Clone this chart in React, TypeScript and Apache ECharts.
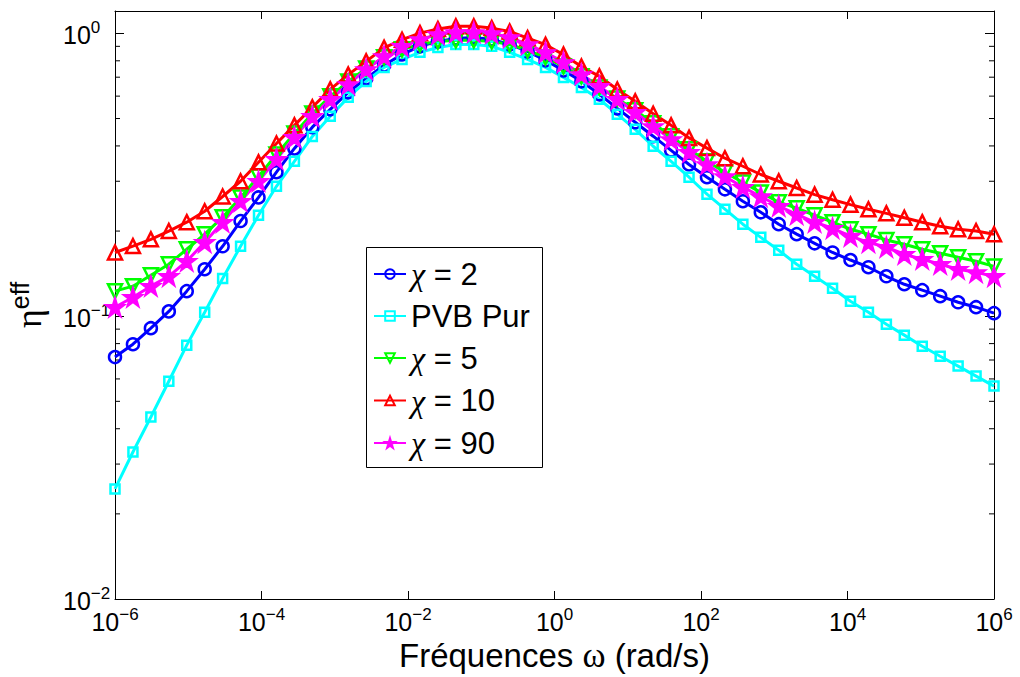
import React, { useEffect, useRef } from "react";
import * as echarts from "echarts";

// x grid: logspace(-6, 6, 50) -> exponents of omega
const omegaExponents: number[] = Array.from({ length: 50 }, (_, k) => -6 + (12 * k) / 49);

const seriesNames = ["χ = 2", "PVB Pur", "χ = 5", "χ = 10", "χ = 90"];

const chi2 = [
  0.0717, 0.0796, 0.0907, 0.104, 0.1226, 0.1466, 0.1767, 0.217, 0.263, 0.323,
  0.392, 0.466, 0.539, 0.619, 0.693, 0.771, 0.843, 0.9, 0.937, 0.96,
  0.968, 0.952, 0.914, 0.864, 0.803, 0.74, 0.677, 0.609, 0.543, 0.485,
  0.433, 0.386, 0.344, 0.31, 0.281, 0.255, 0.233, 0.2115, 0.195, 0.181,
  0.168, 0.158, 0.149, 0.1384, 0.1297, 0.1236, 0.1177, 0.112, 0.1076, 0.1025,
];
const pvbPur = [
  0.0245, 0.0331, 0.044, 0.0589, 0.079, 0.1033, 0.136, 0.1767, 0.2275, 0.288,
  0.353, 0.432, 0.509, 0.594, 0.676, 0.758, 0.809, 0.857, 0.892, 0.914,
  0.914, 0.9, 0.857, 0.809, 0.758, 0.699, 0.644, 0.585, 0.518, 0.458,
  0.399, 0.353, 0.31, 0.27, 0.239, 0.2115, 0.19, 0.171, 0.1527, 0.1384,
  0.1256, 0.113, 0.1033, 0.0937, 0.0857, 0.0783, 0.0722, 0.0666, 0.0614, 0.0566,
];
const chi5 = [
  0.1226, 0.1277, 0.1396, 0.1527, 0.1725, 0.195, 0.224, 0.263, 0.312, 0.373,
  0.443, 0.521, 0.599, 0.676, 0.752, 0.823, 0.878, 0.914, 0.937, 0.945,
  0.945, 0.937, 0.914, 0.871, 0.823, 0.764, 0.705, 0.644, 0.589, 0.535,
  0.481, 0.433, 0.389, 0.353, 0.323, 0.297, 0.274, 0.253, 0.241, 0.2275,
  0.215, 0.203, 0.195, 0.186, 0.1796, 0.1725, 0.167, 0.1616, 0.1565, 0.15,
];
const chi10 = [
  0.168, 0.177, 0.187, 0.2, 0.215, 0.235, 0.265, 0.3, 0.35, 0.408,
  0.473, 0.548, 0.634, 0.715, 0.796, 0.889, 0.95, 1.002, 1.036, 1.059,
  1.059, 1.044, 1.016, 0.962, 0.912, 0.841, 0.764, 0.705, 0.633, 0.575,
  0.52, 0.473, 0.427, 0.393, 0.362, 0.339, 0.317, 0.3, 0.284, 0.269,
  0.258, 0.248, 0.239, 0.231, 0.223, 0.215, 0.208, 0.203, 0.2, 0.195,
];
const chi90 = [
  0.1076, 0.1167, 0.1277, 0.1384, 0.1565, 0.1825, 0.215, 0.255, 0.3, 0.359,
  0.429, 0.509, 0.585, 0.66, 0.746, 0.829, 0.9, 0.952, 0.992, 1.008,
  1.008, 1.0, 0.968, 0.914, 0.857, 0.79, 0.716, 0.65, 0.585, 0.526,
  0.469, 0.422, 0.38, 0.344, 0.312, 0.286, 0.265, 0.245, 0.229, 0.215,
  0.2046, 0.192, 0.1825, 0.1753, 0.1656, 0.159, 0.1527, 0.1466, 0.1429, 0.1384,
];

const xTickExponents = [-6, -4, -2, 0, 2, 4, 6];
const yMinorTicks = [0.02, 0.03, 0.04, 0.05, 0.06, 0.07, 0.08, 0.09, 0.2, 0.3, 0.4, 0.5, 0.6, 0.7, 0.8, 0.9];

const SANS = "'Liberation Sans', Arial, Helvetica, sans-serif";
const SERIF = "'Liberation Serif', 'Times New Roman', serif";
const STAR = "path://M50,0 L61,35 L98,35 L68,57 L79,91 L50,70 L21,91 L32,57 L2,35 L39,35 Z";

const supLabel = (e: number) => `{b|10}{s|${e < 0 ? "−" + -e : e}}`;

export default function App() {
  const ref = useRef<HTMLDivElement>(null);
  useEffect(() => {
    if (!ref.current) return;
    const chart = echarts.init(ref.current, undefined, { renderer: "svg" });
    const mk = (
      name: string,
      vals: number[],
      color: string,
      symbol: string,
      size: number,
      rotate: number,
      fill: string
    ) => ({
      name,
      type: "line",
      data: vals.map((v, i) => [omegaExponents[i], v]),
      symbol,
      symbolSize: size,
      symbolRotate: rotate,
      showSymbol: true,
      lineStyle: { color, width: 3 },
      itemStyle: { color: fill, borderColor: color, borderWidth: 2.5 },
      emphasis: { disabled: true },
      z: 3,
    });
    const labelRich = {
      b: { fontSize: 25, fontFamily: SANS, color: "#000", lineHeight: 28, verticalAlign: "bottom" },
      s: { fontSize: 17, fontFamily: SANS, color: "#000", lineHeight: 17, verticalAlign: "top" },
    };
    const axisLine = { onZero: false, lineStyle: { color: "#000", width: 1 } };
    const option: any = {
      animation: false,
      backgroundColor: "#fff",
      grid: { left: 115, top: 11, right: 26, bottom: 78, containLabel: false, outerBoundsMode: "none" },
      legend: {
        data: seriesNames,
        orient: "vertical",
        left: 373,
        top: 258,
        padding: 0,
        itemGap: 10.5,
        itemWidth: 32,
        itemHeight: 12,
        formatter: (n: string) => (n.startsWith("χ") ? "{g|χ}{t|" + n.slice(1) + "}" : "{t|" + n + "}"),
        textStyle: {
          fontSize: 31,
          fontFamily: SANS,
          color: "#000",
          lineHeight: 29,
          rich: {
            g: { fontSize: 32, fontFamily: SERIF, fontStyle: "italic", color: "#000", lineHeight: 29 },
            t: { fontSize: 31, fontFamily: SANS, color: "#000", lineHeight: 29 },
          },
        },
      },
      graphic: [
        {
          type: "rect",
          shape: { x: 366.5, y: 247.5, width: 176, height: 220 },
          style: { fill: "none", stroke: "#000", lineWidth: 1 },
          silent: true,
          z: 10,
        },
      ],
      xAxis: [
        {
          type: "value",
          min: -6,
          max: 6,
          interval: 2,
          position: "bottom",
          name: "Fréquences {w|ω} (rad/s)",
          nameLocation: "middle",
          nameGap: 39,
          nameMoveOverlap: false,
          nameTextStyle: {
            fontSize: 33,
            fontFamily: SANS,
            color: "#000",
            lineHeight: 34,
            rich: { w: { fontSize: 35, fontFamily: SERIF, color: "#000", lineHeight: 34 } },
          },
          axisLine,
          axisTick: { inside: true, length: 8, lineStyle: { color: "#000" } },
          axisLabel: {
            margin: 7,
            formatter: (v: number) => (xTickExponents.includes(Math.round(v)) ? supLabel(Math.round(v)) : ""),
            rich: labelRich,
          },
          splitLine: { show: false },
        },
        {
          type: "value",
          min: -6,
          max: 6,
          interval: 2,
          position: "top",
          axisLine,
          axisTick: { inside: true, length: 8, lineStyle: { color: "#000" } },
          axisLabel: { show: false },
          splitLine: { show: false },
        },
      ],
      yAxis: [
        {
          type: "log",
          logBase: 10,
          min: 0.01,
          max: 1.2,
          position: "left",
          name: "{e|η}{s|eff}",
          nameLocation: "middle",
          nameRotate: 90,
          nameGap: 68,
          nameMoveOverlap: false,
          nameTextStyle: {
            color: "#000",
            rich: {
              e: { fontSize: 36, fontFamily: SERIF, color: "#000", lineHeight: 40, verticalAlign: "bottom" },
              s: { fontSize: 25, fontFamily: SANS, color: "#000", lineHeight: 25, verticalAlign: "top" },
            },
          },
          axisLine,
          axisTick: { inside: true, length: 9, lineStyle: { color: "#000" } },
          axisLabel: {
            margin: 52,
            align: "left",
            formatter: (v: number) => {
              const e = Math.log10(v);
              if (Math.abs(e - Math.round(e)) > 1e-6) return "";
              return supLabel(Math.round(e));
            },
            rich: labelRich,
          },
          splitLine: { show: false },
        },
        {
          type: "log",
          logBase: 10,
          min: 0.01,
          max: 1.2,
          position: "right",
          axisLine,
          axisTick: { inside: true, length: 9, lineStyle: { color: "#000" } },
          axisLabel: { show: false },
          splitLine: { show: false },
        },
      ],
      series: [
        {
          type: "custom",
          name: "minorTicks",
          silent: true,
          data: yMinorTicks.map((v) => [0, v]),
          renderItem: (params: any, api: any) => {
            const v = api.value(1);
            const l = api.coord([-6, v]);
            const r = api.coord([6, v]);
            const st = { stroke: "#000", lineWidth: 1 };
            return {
              type: "group",
              children: [
                { type: "line", shape: { x1: l[0], y1: l[1], x2: l[0] + 5, y2: l[1] }, style: st },
                { type: "line", shape: { x1: r[0] - 5, y1: r[1], x2: r[0], y2: r[1] }, style: st },
              ],
            };
          },
          z: 1,
        },
        mk(seriesNames[0], chi2, "#0000ff", "circle", 12, 0, "rgba(0,0,0,0)"),
        mk(seriesNames[1], pvbPur, "#00ffff", "rect", 9, 0, "rgba(0,0,0,0)"),
        mk(seriesNames[2], chi5, "#00ff00", "triangle", 14, 180, "rgba(0,0,0,0)"),
        mk(seriesNames[3], chi10, "#ff0000", "triangle", 14, 0, "rgba(0,0,0,0)"),
        mk(seriesNames[4], chi90, "#ff00ff", STAR, 17, 0, "#ff00ff"),
      ],
    };
    chart.setOption(option);
    return () => chart.dispose();
  }, []);
  return (
    <div
      ref={ref}
      style={{ position: "fixed", left: 0, top: 0, width: 1020, height: 677, background: "#fff" }}
    />
  );
}
